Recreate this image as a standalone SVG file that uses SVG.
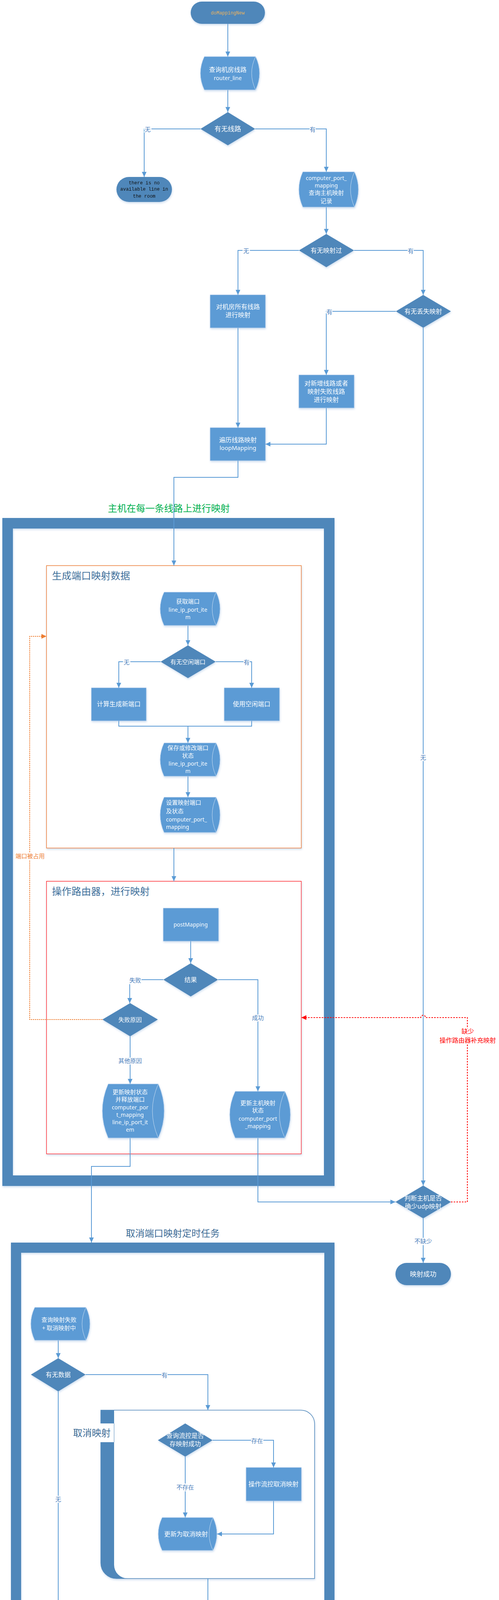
<svg xmlns="http://www.w3.org/2000/svg" width="1277" height="4231" viewBox="0 0 1277 4231">
<style>
.term{fill:#4F87BA}
.dia{fill:#4F87BA}
.proc{fill:#5B9BD5;stroke:#8DB6E2;stroke-width:1}
.ds{fill:#5B9BD5;stroke:#A9C8EA;stroke-width:1}
.dsin{fill:none;stroke:#C9DDF2;stroke-width:1}
.c{fill:none;stroke:#5B9BD5;stroke-width:2;marker-end:url(#arr)}
.cn{fill:none;stroke:#5B9BD5;stroke-width:2}
.t{font-family:"Noto Sans CJK SC","Noto Sans",sans-serif;fill:#fff;font-size:15px;text-anchor:middle}
.tl{font-family:"Noto Sans","Noto Sans CJK SC",sans-serif;fill:#fff;font-size:14px;text-anchor:middle}
.td{font-size:16px}
.mono{font-family:"Liberation Mono","DejaVu Sans Mono",monospace;font-size:12px;text-anchor:middle}
.lbl{font-family:"Noto Sans CJK SC","Noto Sans",sans-serif;font-size:15px;fill:#4A7EBB;text-anchor:middle;dominant-baseline:central;stroke:#fff;stroke-width:5;paint-order:stroke;stroke-linejoin:round}
.title{font-family:"Noto Sans CJK SC","Noto Sans",sans-serif;font-size:25px;fill:#41719C}
.frame{fill:none;stroke:#4F87BA}
</style>
<defs>
<marker id="arr" markerUnits="userSpaceOnUse" markerWidth="13" markerHeight="12" refX="13" refY="6" orient="auto"><path d="M0,0 L13,6 L0,12 Z" fill="#5B9BD5"/></marker>
<marker id="arrR" markerUnits="userSpaceOnUse" markerWidth="13" markerHeight="12" refX="13" refY="6" orient="auto"><path d="M0,0 L13,6 L0,12 Z" fill="#FF0000"/></marker>
<marker id="arrO" markerUnits="userSpaceOnUse" markerWidth="13" markerHeight="12" refX="13" refY="6" orient="auto"><path d="M0,0 L13,6 L0,12 Z" fill="#ED7D31"/></marker>
<filter id="sh" x="-15%" y="-15%" width="135%" height="145%"><feDropShadow dx="1" dy="3" stdDeviation="2.5" flood-color="#8FB4DC" flood-opacity="0.45"/></filter>
</defs>
<rect x="0" y="0" width="1277" height="4231" fill="#fff"/>

<!-- frames / containers -->
<g id="frame-main">
<rect class="frame" x="19.5" y="1339.5" width="823" height="1683" stroke-width="27" filter="url(#sh)"/>
<text x="432" y="1310" font-family="Noto Sans CJK SC, sans-serif" font-size="24" fill="#00B050" text-anchor="middle">主机在每一条线路上进行映射</text>
</g>
<g id="box-generate">
<rect x="119" y="1448" width="652" height="723" fill="#fff" stroke="#ED7D31" stroke-width="1.5" filter="url(#sh)"/>
<text class="title" x="133" y="1483">生成端口映射数据</text>
</g>
<g id="box-router">
<rect x="119" y="2256" width="652" height="698" fill="#fff" stroke="#FF0000" stroke-width="1.3" filter="url(#sh)"/>
<text class="title" x="133" y="2291">操作路由器，进行映射</text>
</g>
<g id="frame-cancel">
<rect class="frame" x="41" y="3194" width="802" height="1012" stroke-width="26" filter="url(#sh)"/>
<text x="442" y="3166" font-family="Noto Sans CJK SC, sans-serif" font-size="24" fill="#3E6C96" text-anchor="middle">取消端口映射定时任务</text>
</g>
<g id="container-cancel">
<path d="M258,3610 H770 A35,35 0 0 1 805,3645 V4041 H298 A40,40 0 0 1 258,4001 Z" fill="#fff" stroke="#4F87BA" stroke-width="1.5" filter="url(#sh)"/>
<path d="M258,3610 H292 V4006 A35,35 0 0 0 327,4041 H298 A40,40 0 0 1 258,4001 Z" fill="#4F87BA"/>
<rect x="180" y="3644" width="112" height="48" fill="#fff"/>
<line x1="292" y1="3644" x2="292" y2="3692" stroke="#4F87BA" stroke-width="1"/>
<text x="187" y="3677" font-family="Noto Sans CJK SC, sans-serif" font-size="24" fill="#3E6C96">取消映射</text>
</g>

<!-- connectors -->
<g id="connectors">
<path class="c" d="M583,61 V145"/>
<path class="c" d="M583,230 V287"/>
<path class="c" d="M513,330 H369 V453"/>
<path class="c" d="M653,330 H835 V440"/>
<path class="c" d="M835,530 V599"/>
<path class="c" d="M765,641 H609 V755"/>
<path class="c" d="M906,641 H1083 V755"/>
<path class="c" d="M1013,797 H835 V960"/>
<path class="c" d="M609,839 V1095"/>
<path class="c" d="M835,1044 V1137 H679"/>
<path class="c" d="M609,1179 V1222 H445 V1448"/>
<path class="c" d="M1083,839 V3035"/>
<path class="c" d="M481,1601 V1652"/>
<path class="c" d="M411,1694 H304 V1761"/>
<path class="c" d="M552,1694 H644 V1761"/>
<path class="cn" d="M304,1845 V1859 H644 V1845"/>
<path class="c" d="M481,1859 V1902"/>
<path class="c" d="M481,1987 V2041"/>
<path class="c" d="M445,2171 V2256"/>
<path class="c" d="M488,2409 V2466"/>
<path class="c" d="M418,2508 H332 V2568"/>
<path class="c" d="M558,2508 H660 V2794"/>
<path class="c" d="M333,2653 V2775"/>
<path class="c" d="M333,2913 V2986 H234 V3181"/>
<path class="c" d="M660,2913 V3077 H1012"/>
<path class="c" d="M1083,3119 V3233"/>
<path d="M262,2610 H76 V1629 H119" fill="none" stroke="#ED7D31" stroke-width="2" stroke-dasharray="3,2" marker-end="url(#arrO)"/>
<path d="M1154,3077 H1196 V2605 H1089 A6,6 0 0 0 1077,2605 H771" fill="none" stroke="#FF0000" stroke-width="2" stroke-dasharray="4,3" marker-end="url(#arrR)"/>
<path class="c" d="M149,3431 V3477"/>
<path class="c" d="M219,3519 H532 V3610"/>
<path class="c" d="M149,3562 V4111"/>
<path class="c" d="M544,3687 H700 V3757"/>
<path class="c" d="M474,3729 V3885"/>
<path class="c" d="M700,3842 V3927 H555"/>
<path class="c" d="M532,4041 V4140 H220"/>
<text class="lbl" x="378" y="330">无</text>
<text class="lbl" x="800" y="330">有</text>
<text class="lbl" x="630" y="641">无</text>
<text class="lbl" x="1051" y="641">有</text>
<text class="lbl" x="843" y="797">有</text>
<text class="lbl" x="1083" y="1938">无</text>
<text class="lbl" x="324" y="1694">无</text>
<text class="lbl" x="631" y="1694">有</text>
<text class="lbl" x="346" y="2508">失败</text>
<text class="lbl" x="660" y="2604">成功</text>
<text class="lbl" x="333" y="2714">其他原因</text>
<text class="lbl" x="1083" y="3176">不缺少</text>
<text class="lbl" x="421" y="3519">有</text>
<text class="lbl" x="149" y="3837">无</text>
<text class="lbl" x="658" y="3687">存在</text>
<text class="lbl" x="474" y="3806">不存在</text>
<text class="lbl" x="77" y="2190" style="fill:#ED7D31">端口被占用</text>
<text class="lbl" x="1197" y="2639" style="fill:#FF0000;font-size:16px">缺少</text>
<text class="lbl" x="1197" y="2662" style="fill:#FF0000;font-size:16px">操作路由器补充映射</text>
</g>

<!-- nodes -->
<g id="start" filter="url(#sh)">
<rect class="term" x="488" y="4" width="190" height="57" rx="28.5"/>
<text class="mono" x="583" y="37" fill="#F2B45C">doMappingNew</text>
</g>
<g id="query-lines" filter="url(#sh)">
<path class="ds" d="M523,145 H654 Q674,187.5 654,230 H523 Q503,187.5 523,145 Z"/>
<path class="dsin" d="M654,145 Q634,187.5 654,230"/>
<text class="t td" x="583" y="184">查询机房线路</text>
<text class="tl" x="583" y="205">router_line</text>
</g>
<g id="has-line" filter="url(#sh)">
<path class="dia" d="M513,330 L583,287 L653,330 L583,372 Z"/>
<text class="t" x="583" y="336" style="font-size:17px">有无线路</text>
</g>
<g id="no-line" filter="url(#sh)">
<rect class="term" x="298" y="453" width="142" height="64" rx="32"/>
<text class="mono" x="369" y="472" fill="#111">there is no</text>
<text class="mono" x="369" y="488" fill="#111">available line in</text>
<text class="mono" x="369" y="506" fill="#111">the room</text>
</g>
<g id="query-host-mapping" filter="url(#sh)">
<path class="ds" d="M775,440 H907 Q927,485 907,530 H775 Q755,485 775,440 Z"/>
<path class="dsin" d="M907,440 Q887,485 907,530"/>
<text class="tl" x="835" y="461">computer_port_</text>
<text class="tl" x="835" y="480">mapping</text>
<text class="t" x="835" y="499">查询主机映射</text>
<text class="t" x="835" y="520">记录</text>
</g>
<g id="mapped-before" filter="url(#sh)">
<path class="dia" d="M765,641 L835,599 L906,641 L835,684 Z"/>
<text class="t td" x="835" y="647">有无映射过</text>
</g>
<g id="map-all" filter="url(#sh)">
<rect class="proc" x="538" y="755" width="141" height="84"/>
<text class="t td" x="609" y="791">对机房所有线路</text>
<text class="t td" x="609" y="812">进行映射</text>
</g>
<g id="lost-mapping" filter="url(#sh)">
<path class="dia" d="M1013,797 L1083,755 L1154,797 L1083,839 Z"/>
<text class="t td" x="1083" y="803">有无丢失映射</text>
</g>
<g id="map-new" filter="url(#sh)">
<rect class="proc" x="765" y="960" width="141" height="84"/>
<text class="t td" x="835" y="987">对新增线路或者</text>
<text class="t td" x="835" y="1008">映射失败线路</text>
<text class="t td" x="835" y="1029">进行映射</text>
</g>
<g id="loop-mapping" filter="url(#sh)">
<rect class="proc" x="538" y="1095" width="141" height="84"/>
<text class="t td" x="609" y="1132">遍历线路映射</text>
<text class="tl" x="609" y="1152" style="font-size:15px">loopMapping</text>
</g>
<g id="get-port" filter="url(#sh)">
<path class="ds" d="M420,1516 H553 Q573,1558.5 553,1601 H420 Q400,1558.5 420,1516 Z"/>
<path class="dsin" d="M553,1516 Q533,1558.5 553,1601"/>
<text class="t" x="481" y="1545">获取端口</text>
<text class="tl" x="481" y="1566">line_ip_port_ite</text>
<text class="tl" x="481" y="1585">m</text>
</g>
<g id="free-port" filter="url(#sh)">
<path class="dia" d="M411,1694 L481,1652 L552,1694 L481,1736 Z"/>
<text class="t" x="481" y="1700">有无空闲端口</text>
</g>
<g id="calc-port" filter="url(#sh)">
<rect class="proc" x="234" y="1761" width="140" height="84"/>
<text class="t td" x="304" y="1808">计算生成新端口</text>
</g>
<g id="use-port" filter="url(#sh)">
<rect class="proc" x="574" y="1761" width="141" height="84"/>
<text class="t td" x="644" y="1808">使用空闲端口</text>
</g>
<g id="save-port" filter="url(#sh)">
<path class="ds" d="M420,1902 H553 Q573,1944.5 553,1987 H420 Q400,1944.5 420,1902 Z"/>
<path class="dsin" d="M553,1902 Q533,1944.5 553,1987"/>
<text class="t" x="481" y="1920">保存或修改端口</text>
<text class="t" x="481" y="1940">状态</text>
<text class="tl" x="481" y="1960">line_ip_port_ite</text>
<text class="tl" x="481" y="1979">m</text>
</g>
<g id="set-port" filter="url(#sh)">
<path class="ds" d="M420,2041 H553 Q573,2086 553,2131 H420 Q400,2086 420,2041 Z"/>
<path class="dsin" d="M553,2041 Q533,2086 553,2131"/>
<text class="t" x="425" y="2060" style="text-anchor:start">设置映射端口</text>
<text class="t" x="425" y="2082" style="text-anchor:start">及状态</text>
<text class="tl" x="425" y="2103" style="text-anchor:start">computer_port_</text>
<text class="tl" x="425" y="2122" style="text-anchor:start">mapping</text>
</g>
<g id="post-mapping" filter="url(#sh)">
<rect class="proc" x="418" y="2325" width="141" height="84"/>
<text class="tl" x="488" y="2372">postMapping</text>
</g>
<g id="result" filter="url(#sh)">
<path class="dia" d="M418,2508 L488,2466 L558,2508 L488,2551 Z"/>
<text class="t td" x="488" y="2514">结果</text>
</g>
<g id="fail-reason" filter="url(#sh)">
<path class="dia" d="M262,2610 L333,2568 L404,2610 L333,2653 Z"/>
<text class="t" x="333" y="2616">失败原因</text>
</g>
<g id="update-release" filter="url(#sh)">
<path class="ds" d="M277,2775 H405 Q435,2844 405,2913 H277 Q247,2844 277,2775 Z"/>
<path class="dsin" d="M405,2775 Q375,2844 405,2913"/>
<text class="t" x="333" y="2801">更新映射状态</text>
<text class="t" x="333" y="2820">并释放端口</text>
<text class="tl" x="333" y="2840">computer_por</text>
<text class="tl" x="333" y="2859">t_mapping</text>
<text class="tl" x="333" y="2878">line_ip_port_it</text>
<text class="tl" x="333" y="2897">em</text>
</g>
<g id="update-host" filter="url(#sh)">
<path class="ds" d="M602,2794 H729 Q757,2853.5 729,2913 H602 Q574,2853.5 602,2794 Z"/>
<path class="dsin" d="M729,2794 Q701,2853.5 729,2913"/>
<text class="t" x="660" y="2829">更新主机映射</text>
<text class="t" x="660" y="2848">状态</text>
<text class="tl" x="660" y="2869">computer_port</text>
<text class="tl" x="660" y="2888">_mapping</text>
</g>
<g id="check-udp" filter="url(#sh)">
<path class="dia" d="M1012,3077 L1083,3035 L1154,3077 L1083,3119 Z"/>
<text class="t td" x="1083" y="3073">判断主机是否</text>
<text class="t td" x="1083" y="3094">确少udp映射</text>
</g>
<g id="success" filter="url(#sh)">
<rect class="term" x="1012" y="3233" width="142" height="57" rx="28.5"/>
<text class="t" x="1083" y="3268" style="font-size:17px">映射成功</text>
</g>
<g id="query-failed" filter="url(#sh)">
<path class="ds" d="M89,3347 H220 Q240,3389 220,3431 H89 Q69,3389 89,3347 Z"/>
<path class="dsin" d="M220,3347 Q200,3389 220,3431"/>
<text class="t" x="151" y="3384">查询映射失败</text>
<text class="t" x="151" y="3405">+ 取消映射中</text>
</g>
<g id="has-data" filter="url(#sh)">
<path class="dia" d="M79,3519 L149,3477 L219,3519 L149,3562 Z"/>
<text class="t td" x="149" y="3525">有无数据</text>
</g>
<g id="query-flow" filter="url(#sh)">
<path class="dia" d="M404,3687 L474,3644 L544,3687 L474,3729 Z"/>
<text class="t td" x="474" y="3681">查询流控是否</text>
<text class="t td" x="474" y="3702">存映射成功</text>
</g>
<g id="cancel-flow" filter="url(#sh)">
<rect class="proc" x="630" y="3757" width="141" height="85"/>
<text class="t td" x="700" y="3805">操作流控取消映射</text>
</g>
<g id="update-cancel" filter="url(#sh)">
<path class="ds" d="M415,3885 H545 Q565,3927 545,3969 H415 Q395,3927 415,3885 Z"/>
<path class="dsin" d="M545,3885 Q525,3927 545,3969"/>
<text class="t td" x="476" y="3933">更新为取消映射</text>
</g>
<g id="end" filter="url(#sh)">
<rect class="term" x="79" y="4111" width="141" height="57" rx="28.5"/>
<text class="t td" x="149" y="4146">结束</text>
</g>
</svg>
